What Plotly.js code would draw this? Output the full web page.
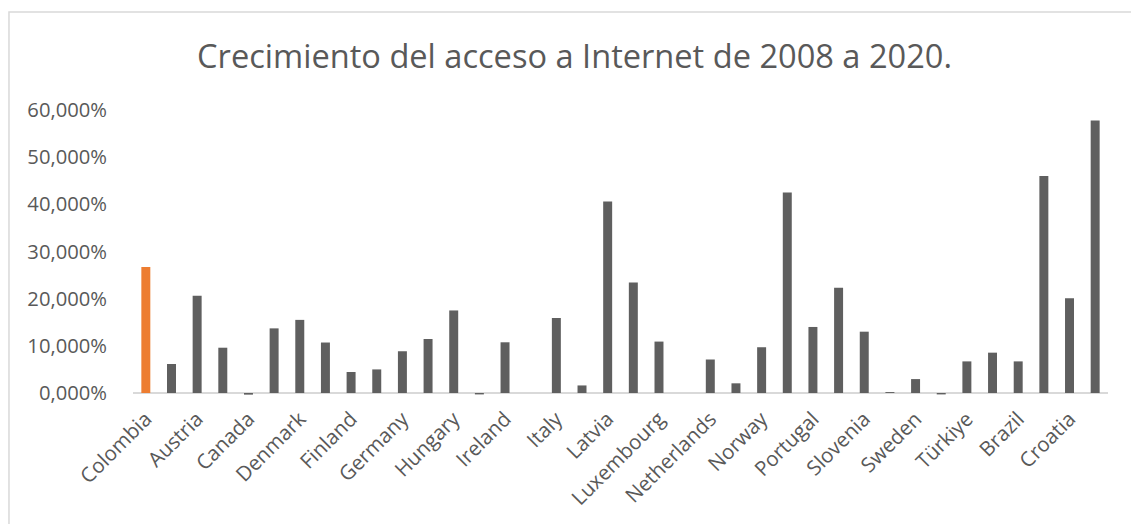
<!DOCTYPE html>
<html>
<head>
<meta charset="utf-8">
<script src="https://cdn.plot.ly/plotly-3.0.1.min.js"></script>
<style>
  html, body { margin: 0; padding: 0; background: #ffffff; }
  #chart { width: 1131px; height: 524px; }
</style>
</head>
<body>
<div id="chart"></div>
<script>
// Categories (every second one is labelled on the axis)
const countries = [
  "Colombia", "Australia", "Austria", "Belgium", "Canada", "Chile", "Denmark", "Estonia",
  "Finland", "France", "Germany", "Greece", "Hungary", "Iceland", "Ireland", "Israel",
  "Italy", "Japan", "Latvia", "Lithuania", "Luxembourg", "Mexico", "Netherlands", "New Zealand",
  "Norway", "Poland", "Portugal", "Slovak Republic", "Slovenia", "Spain", "Sweden", "Switzerland",
  "Türkiye", "United Kingdom", "Brazil", "Bulgaria", "Croatia", "Romania"
];

// Growth of internet access 2008-2020 (percent)
const growth = [
  26.7, 6.15, 20.6, 9.6, -0.35, 13.7, 15.5, 10.7,
  4.45, 5.0, 8.85, 11.45, 17.5, -0.3, 10.75, 0,
  15.9, 1.6, 40.6, 23.4, 10.9, 0, 7.1, 2.05,
  9.7, 42.5, 14.0, 22.3, 13.0, 0.2, 2.95, -0.3,
  6.7, 8.55, 6.7, 46.0, 20.1, 57.8
];

// Labels shown on the category axis
const shownLabels = [
  "Colombia", "Austria", "Canada", "Denmark", "Finland", "Germany", "Hungary", "Ireland",
  "Italy", "Latvia", "Luxembourg", "Netherlands", "Norway", "Portugal", "Slovenia", "Sweden",
  "Türkiye", "Brazil", "Croatia"
];

const yTicks = [0, 10, 20, 30, 40, 50, 60];
const yTickLabels = ["0,000%", "10,000%", "20,000%", "30,000%", "40,000%", "50,000%", "60,000%"];
const highlighted = "Colombia";

const ORANGE = "#ED7D31";
const GRAY = "#5F5F5F";
const TEXT = "#595959";
const FONT = "Open Sans, Segoe UI, sans-serif";

const trace = {
  type: "bar",
  x: countries,
  y: growth,
  marker: { color: countries.map(c => c === highlighted ? ORANGE : GRAY) },
  hoverinfo: "x+y"
};

const layout = {
  width: 1131,
  height: 524,
  paper_bgcolor: "#ffffff",
  plot_bgcolor: "#ffffff",
  margin: { l: 133, r: 23, t: 110, b: 127 },
  bargap: 0.65,
  showlegend: false,
  font: { family: FONT, color: TEXT },
  title: {
    text: "Crecimiento del acceso a Internet de 2008 a 2020.",
    font: { family: FONT, size: 32.6, color: TEXT },
    xref: "container", x: 0.508, xanchor: "center",
    yref: "container", y: 0.892, yanchor: "middle"
  },
  xaxis: {
    type: "category",
    tickmode: "array",
    tickvals: shownLabels,
    ticktext: shownLabels,
    tickangle: -45,
    tickfont: { family: FONT, size: 20.5, color: TEXT },
    showgrid: false,
    showline: false,
    zeroline: false,
    ticks: "",
    ticklabelstandoff: 5,
    automargin: false
  },
  yaxis: {
    range: [-0.85, 60],
    tickmode: "array",
    tickvals: yTicks,
    ticktext: yTickLabels,
    tickfont: { family: FONT, size: 20.2, color: TEXT },
    showgrid: false,
    showline: false,
    zeroline: true,
    zerolinecolor: "#D9D9D9",
    zerolinewidth: 1.5,
    ticks: "",
    ticklabelstandoff: 25,
    automargin: false
  },
  shapes: [{
    type: "rect",
    xref: "paper", yref: "paper",
    x0: -0.1272, x1: 1.2,
    y0: -0.8, y1: 1.3415,
    line: { color: "#D9D9D9", width: 1.5 },
    fillcolor: "rgba(0,0,0,0)",
    layer: "below"
  }]
};

Plotly.newPlot("chart", [trace], layout, { displayModeBar: false, staticPlot: true });
</script>
</body>
</html>
